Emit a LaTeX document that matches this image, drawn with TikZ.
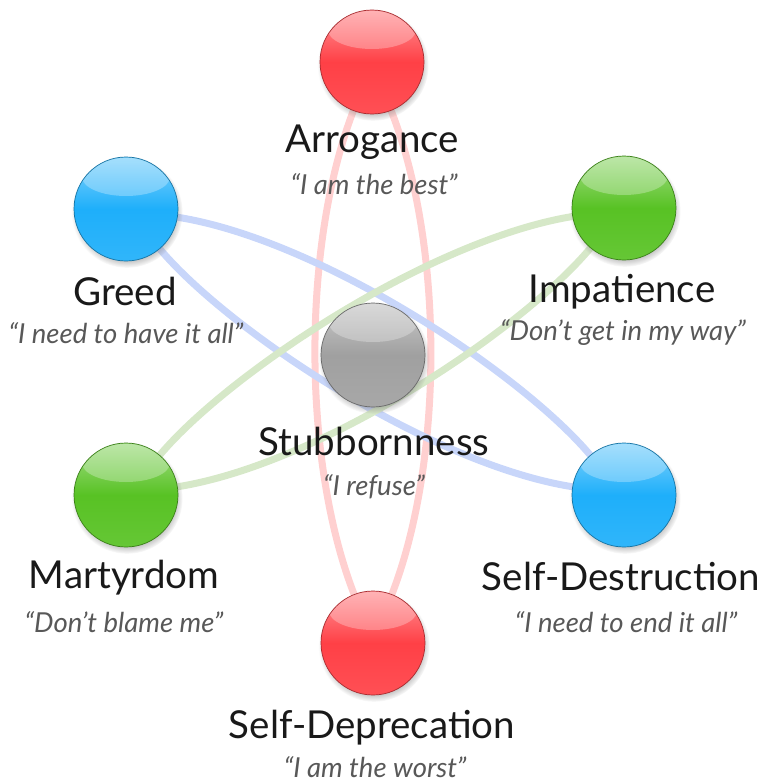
\documentclass[tikz,border=0pt]{standalone}
\usepackage{fontspec}
\setmainfont{Lato}
\usepackage{tikz}
\usetikzlibrary{shadows, positioning}

\pgfdeclarelayer{background}
\pgfsetlayers{background,main}

\definecolor{ballred}{RGB}{255,64,70}
\definecolor{ballblue}{RGB}{30,175,250}
\definecolor{ballgreen}{RGB}{88,194,36}
\definecolor{ballgray}{RGB}{160,160,160}
\definecolor{linkred}{RGB}{255,208,208}
\definecolor{linkblue}{RGB}{200,214,250}
\definecolor{linkgreen}{RGB}{214,232,200}
\definecolor{quotegray}{RGB}{88,88,88}

\begin{document}
\begin{tikzpicture}[
    x=1pt,y=-1pt,
    ball/.style={circle, minimum size=104pt, inner sep=0pt, draw=#1!65!black, line width=0.7pt,
        top color=#1!55!white, bottom color=#1!92!white, middle color=#1,
        circular drop shadow={shadow xshift=1pt, shadow yshift=-3pt, shadow scale=1.07, opacity=0.5},
        path picture={\fill[white, fill opacity=0.28] ([yshift=-20pt]path picture bounding box.north) ellipse (44pt and 19pt);}},
    title/.style={anchor=base, font=\fontsize{38.5}{42}\selectfont, text=black!90},
    quote/.style={anchor=base, font=\itshape\fontsize{27.5}{32}\selectfont, text=quotegray},
    link/.style={line width=7pt, draw=#1}
]
    \useasboundingbox (0,0) rectangle (764,784);

    % --- Balls ---
    \node[ball=ballred] (arr) at (372, 62) {};
    \node[ball=ballblue] (grd) at (126, 209) {};
    \node[ball=ballgreen] (imp) at (624, 208) {};
    \node[ball=ballgray] (stb) at (373, 355) {};
    \node[ball=ballgreen] (mar) at (126, 495) {};
    \node[ball=ballblue] (sdst) at (624, 495) {};
    \node[ball=ballred] (sdep) at (373, 643) {};

    % --- Names and sayings ---
    \node[title] (arr_t) at (372, 152) {Arrogance};
    \node[quote] (arr_q) at (374, 194) {“I am the best”};
    \node[title] (grd_t) at (125, 305) {Greed};
    \node[quote] (grd_q) at (126, 343) {“I need to have it all”};
    \node[title] (imp_t) at (622, 302) {Impatience};
    \node[quote] (imp_q) at (623, 340) {“Don’t get in my way”};
    \node[title] (stb_t) at (374, 455) {Stubbornness};
    \node[quote] (stb_q) at (374, 495) {“I refuse”};
    \node[title] (mar_t) at (124, 588) {Martyrdom};
    \node[quote] (mar_q) at (124, 632) {“Don’t blame me”};
    \node[title] (sdst_t) at (621, 590) {Self-Destruction};
    \node[quote] (sdst_q) at (626, 632) {“I need to end it all”};
    \node[title] (sdep_t) at (372, 738) {Self-Deprecation};
    \node[quote] (sdep_q) at (375, 777) {“I am the worst”};

    % --- Links behind the balls ---
    \begin{pgfonlayer}{background}
        \draw[link=linkred] (arr) .. controls (302, 245) and (302, 460) .. (sdep);
        \draw[link=linkred] (arr) .. controls (444, 245) and (444, 460) .. (sdep);

        \draw[link=linkblue] (grd) .. controls (320, 240) and (520, 372) .. (sdst);
        \draw[link=linkblue] (grd) .. controls (230, 332) and (430, 464) .. (sdst);

        \draw[link=linkgreen] (imp) .. controls (430, 240) and (230, 372) .. (mar);
        \draw[link=linkgreen] (imp) .. controls (520, 332) and (320, 464) .. (mar);
    \end{pgfonlayer}

\end{tikzpicture}
\end{document}
